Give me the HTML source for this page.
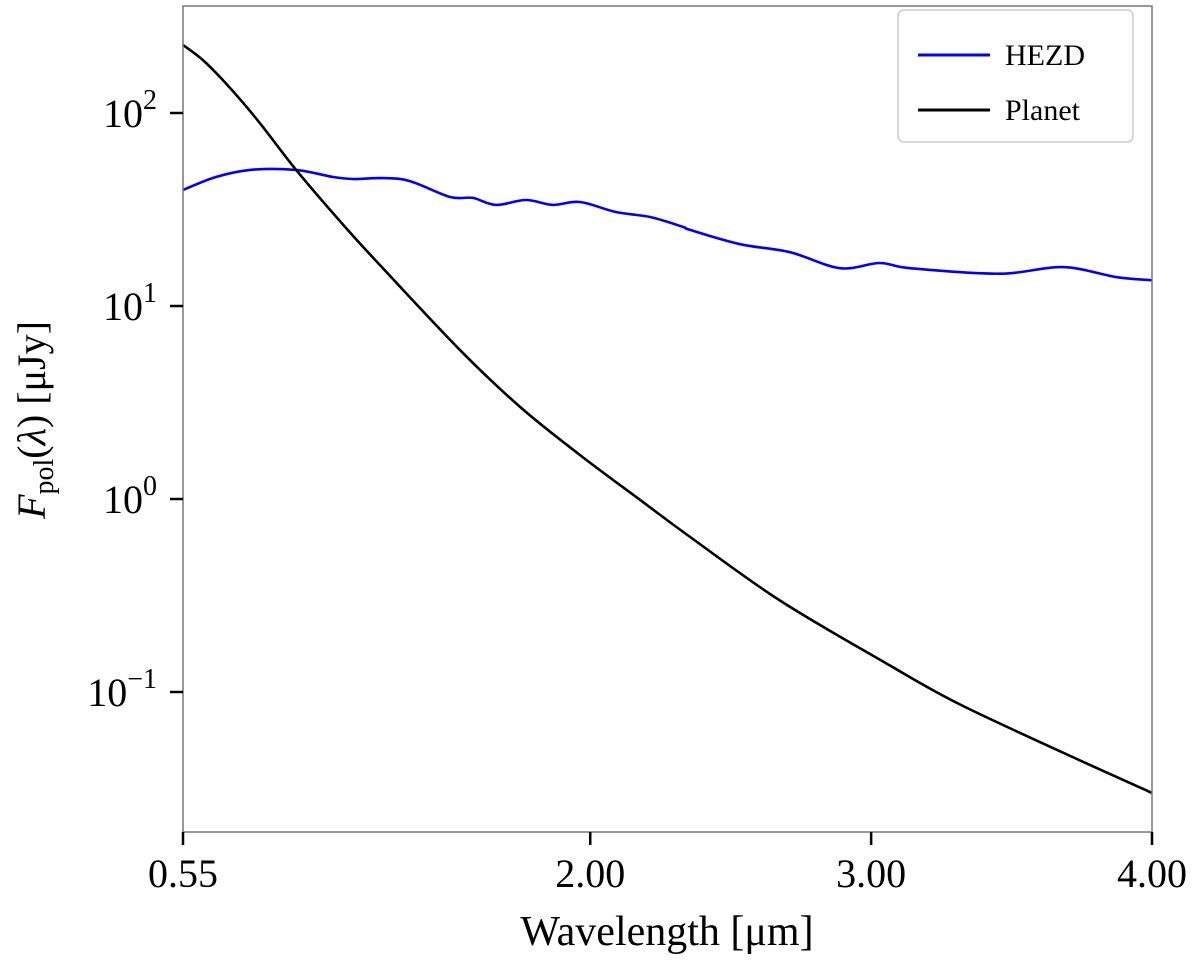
<!DOCTYPE html>
<html><head><meta charset="utf-8"><style>
body{margin:0;background:#fff}
svg text{font-family:"Liberation Serif",serif;fill:#000}
</style></head><body>
<svg id="chart" width="1200" height="960" xmlns="http://www.w3.org/2000/svg">
<g id="plot"></g>
<g id="axes"></g>
<text x="667" y="945" font-size="42" text-anchor="middle">Wavelength [μm]</text>
<text transform="translate(45,420) rotate(-90)" font-size="40" text-anchor="middle"><tspan font-style="italic">F</tspan><tspan font-size="28" dy="8">pol</tspan><tspan dy="-8">(</tspan><tspan font-style="italic">λ</tspan><tspan>) [μJy]</tspan></text>
<g>
<rect x="898" y="10" width="235" height="132" rx="6" fill="#fff" stroke="#ccc" stroke-width="1.5"/>
<line x1="918" y1="55" x2="990" y2="55" stroke="#0000ff" stroke-width="3"/>
<text x="1005" y="65" font-size="30">HEZD</text>
<line x1="918" y1="110" x2="990" y2="110" stroke="#000" stroke-width="3"/>
<text x="1005" y="120" font-size="30">Planet</text>
</g>
</svg>
<script>
const planetX=[0.55,0.621,0.692,0.764,0.835,0.959,1.130,1.251,1.536,1.750,1.963,2.177,2.341,2.672,3.053,3.306,3.686,4.0];
const planetY=[225,188,148,113,84.5,49.4,25.4,16.3,5.92,3.0,1.69,0.99,0.659,0.300,0.141,0.0877,0.0483,0.030];
const hezdX=[0.55,0.667,0.789,0.952,1.084,1.155,1.262,1.358,1.501,1.582,1.664,1.771,1.867,1.963,2.091,2.213,2.330,2.355,2.533,2.711,2.889,3.031,3.138,3.459,3.683,3.875,4.0];
const hezdY=[39.9,46.6,50.7,50.7,46.6,45.5,46,44.4,36.7,36.3,33.4,35.4,33.4,34.6,30.7,28.9,25.7,24.8,20.9,19.0,15.7,16.7,15.7,14.7,15.9,14.1,13.6];
const xTicks=[0.55,2.0,3.0,4.0];
const xTickLabels=["0.55","2.00","3.00","4.00"];
const yTicks=[2,1,0,-1];
const L=183,R=1152,T=6,B=832;
const sx=v=>L+(v-0.55)/(4-0.55)*(R-L);
const sy=v=>113+(2-Math.log10(v))*193;
const NS="http://www.w3.org/2000/svg";
const plot=document.getElementById('plot'),axes=document.getElementById('axes');
function mk(t,a,p){const e=document.createElementNS(NS,t);for(const k in a)e.setAttribute(k,a[k]);p.appendChild(e);return e;}
function path(xs,ys,col,name){
 const P=xs.map((x,i)=>[sx(x),sy(ys[i])]);
 let d='M'+P[0][0].toFixed(1)+','+P[0][1].toFixed(1);
 for(let i=0;i<P.length-1;i++){
  const p0=P[Math.max(0,i-1)],p1=P[i],p2=P[i+1],p3=P[Math.min(P.length-1,i+2)];
  const c1=[p1[0]+(p2[0]-p0[0])/6,p1[1]+(p2[1]-p0[1])/6];
  const c2=[p2[0]-(p3[0]-p1[0])/6,p2[1]-(p3[1]-p1[1])/6];
  d+=' C'+c1.map(v=>v.toFixed(1)).join(',')+' '+c2.map(v=>v.toFixed(1)).join(',')+' '+p2.map(v=>v.toFixed(1)).join(',');
 }
 const p=mk('path',{d:d,fill:'none',stroke:col,'stroke-width':2.6,'stroke-linejoin':'round'},plot);
 
 
}
path(hezdX,hezdY,'#0000ff','hezd-line');
path(planetX,planetY,'#000','planet-line');
const fr=mk('rect',{x:L,y:T,width:R-L,height:B-T,fill:'none',stroke:'#777','stroke-width':1.5},axes);


xTicks.forEach((v,i)=>{
 const x=sx(v);
 const t=mk('line',{x1:x,y1:B,x2:x,y2:B+13,stroke:'#000','stroke-width':2.5},axes);
 
 
 const l=mk('text',{x:x,y:B+55,'font-size':40,'text-anchor':'middle'},axes);
 l.textContent=xTickLabels[i];
 
 
});
yTicks.forEach(e=>{
 const y=sy(Math.pow(10,e));
 const t=mk('line',{x1:L-13,y1:y,x2:L,y2:y,stroke:'#000','stroke-width':2.5},axes);
 
 
 const l=mk('text',{x:L-26,y:y+14,'font-size':40,'text-anchor':'end'},axes);
 l.innerHTML='10<tspan font-size="28" dy="-18">'+(e<0?'\u2212'+(-e):e)+'</tspan>';
 
 
});
</script>
</body></html>
